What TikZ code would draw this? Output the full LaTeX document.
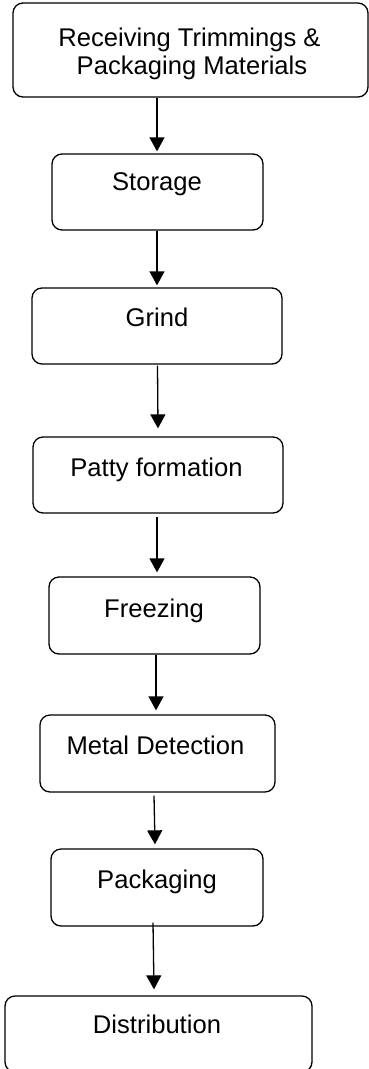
\documentclass[tikz,border=0pt]{standalone}
\usepackage{fontspec}
\setmainfont{Liberation Sans}
\usetikzlibrary{arrows.meta}
\begin{document}
\begin{tikzpicture}[x=1pt,y=1pt,
  stepbox/.style={draw=black, line width=1.3pt, rounded corners=10pt, inner sep=0pt, fill=white},
  steptext/.style={anchor=base, inner sep=0pt, font=\fontsize{25.6}{28}\selectfont, align=center},
  arr/.style={line width=1.3pt, -{Triangle[length=14pt,width=15pt]}}]
\useasboundingbox (0,0) rectangle (369,-1069);
% boxes
\node[stepbox, minimum width=355pt, minimum height=94pt] (b1) at (190.5,-50) {};
\node[stepbox, minimum width=211pt, minimum height=76pt] (b2) at (157.5,-192) {};
\node[stepbox, minimum width=250pt, minimum height=76pt] (b3) at (157,-326) {};
\node[stepbox, minimum width=250pt, minimum height=76pt] (b4) at (158,-475) {};
\node[stepbox, minimum width=211pt, minimum height=77pt] (b5) at (154.5,-615.5) {};
\node[stepbox, minimum width=235pt, minimum height=77pt] (b6) at (157.5,-753.5) {};
\node[stepbox, minimum width=212pt, minimum height=77pt] (b7) at (157,-887.5) {};
\node[stepbox, minimum width=307pt, minimum height=76pt] (b8) at (158.5,-1034) {};
% texts
\node[steptext] (t1a) at (189.5,-46) {Receiving Trimmings \&};
\node[steptext] (t1b) at (192,-74) {Packaging Materials};
\node[steptext] (t2) at (157,-190.5) {Storage};
\node[steptext] (t3) at (157,-326.5) {Grind};
\node[steptext] (t4) at (156.5,-476) {Patty formation};
\node[steptext] (t5) at (154,-617) {Freezing};
\node[steptext] (t6) at (155.5,-754) {Metal Detection};
\node[steptext] (t7) at (157,-888.5) {Packaging};
\node[steptext] (t8) at (157,-1033.5) {Distribution};
% arrows
\draw[arr] ([xshift=-33.5pt]b1.south) -- ([xshift=-0.5pt,yshift=2pt]b2.north);
\draw[arr] ([xshift=-0.5pt]b2.south) -- ([yshift=2pt]b3.north);
\draw[arr] ([xshift=0.5pt,yshift=-1pt]b3.south) -- ([yshift=8pt]b4.north);
\draw[arr] ([xshift=-1pt,yshift=-3pt]b4.south) -- ([xshift=2.5pt,yshift=4pt]b5.north);
\draw[arr] ([xshift=1.5pt]b5.south) -- ([xshift=-1.5pt,yshift=4pt]b6.north);
\draw[arr] ([xshift=-3.5pt,yshift=-3pt]b6.south) -- ([xshift=-2pt,yshift=4pt]b7.north);
\draw[arr] ([xshift=-4pt,yshift=4pt]b7.south) -- ([xshift=-4.5pt,yshift=6pt]b8.north);
\end{tikzpicture}
\end{document}
